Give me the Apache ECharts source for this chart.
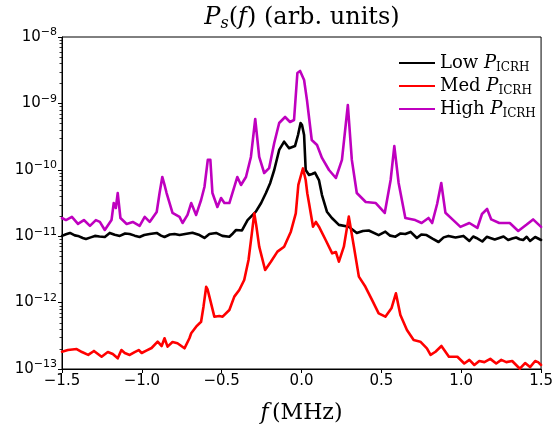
<!DOCTYPE html>
<html>
<head>
<meta charset="utf-8">
<script src="https://cdn.jsdelivr.net/npm/echarts@6/dist/echarts.min.js"></script>
<style>
  html, body { margin: 0; padding: 0; background: #fff; }
  #chart { width: 556px; height: 434px; }
</style>
</head>
<body>
<div id="chart"></div>
<script>
// Spectral power P_s(f) for three ICRH power levels (arbitrary units)
const lowFreq = [-1.5, -1.475, -1.45, -1.42, -1.4, -1.37, -1.35, -1.32, -1.294, -1.265, -1.232, -1.201, -1.17, -1.138, -1.105, -1.076, -1.045, -1.014, -0.985, -0.951, -0.907, -0.88, -0.858, -0.825, -0.795, -0.764, -0.72, -0.683, -0.639, -0.608, -0.577, -0.535, -0.496, -0.452, -0.43, -0.41, -0.373, -0.338, -0.286, -0.253, -0.223, -0.196, -0.171, -0.14, -0.109, -0.078, -0.041, -0.022, -0.006, 0.003, 0.016, 0.026, 0.047, 0.066, 0.084, 0.109, 0.128, 0.159, 0.19, 0.234, 0.296, 0.346, 0.384, 0.421, 0.483, 0.525, 0.555, 0.588, 0.62, 0.65, 0.683, 0.722, 0.75, 0.783, 0.82, 0.858, 0.89, 0.92, 0.964, 1.014, 1.051, 1.075, 1.095, 1.132, 1.16, 1.182, 1.21, 1.238, 1.265, 1.294, 1.32, 1.344, 1.366, 1.388, 1.41, 1.431, 1.463, 1.5];
const lowPower = [1.01e-11, 1.07e-11, 1.12e-11, 1.03e-11, 1.01e-11, 9.4e-12, 9.08e-12, 9.6e-12, 1.01e-11, 9.9e-12, 9.73e-12, 1.12e-11, 1.05e-11, 1.01e-11, 1.1e-11, 1.08e-11, 1.02e-11, 9.73e-12, 1.04e-11, 1.08e-11, 1.12e-11, 1.02e-11, 9.73e-12, 1.06e-11, 1.08e-11, 1.04e-11, 1.09e-11, 1.13e-11, 1.04e-11, 9.4e-12, 1.08e-11, 1.12e-11, 1.01e-11, 9.83e-12, 1.1e-11, 1.24e-11, 1.22e-11, 1.75e-11, 2.34e-11, 3.16e-11, 4.47e-11, 6.33e-11, 9.93e-11, 1.99e-10, 2.65e-10, 2.11e-10, 2.28e-10, 3.34e-10, 5.07e-10, 4.73e-10, 3.34e-10, 9.93e-11, 8.35e-11, 8.64e-11, 9.04e-11, 7.02e-11, 4.17e-11, 2.34e-11, 1.88e-11, 1.48e-11, 1.39e-11, 1.12e-11, 1.2e-11, 1.22e-11, 1.04e-11, 1.17e-11, 1.02e-11, 9.83e-12, 1.1e-11, 1.08e-11, 1.16e-11, 9.4e-12, 1.06e-11, 1.04e-11, 9.2e-12, 8.18e-12, 9.6e-12, 1.01e-11, 9.55e-12, 1.01e-11, 8.47e-12, 9.9e-12, 9.4e-12, 8.32e-12, 9.8e-12, 9.4e-12, 8.9e-12, 9.4e-12, 9.9e-12, 8.77e-12, 9.2e-12, 9.55e-12, 9.0e-12, 8.77e-12, 9.8e-12, 8.47e-12, 9.73e-12, 8.77e-12];

const medFreq = [-1.5, -1.463, -1.408, -1.375, -1.336, -1.3, -1.252, -1.213, -1.182, -1.151, -1.128, -1.107, -1.076, -1.045, -1.02, -1.001, -0.972, -0.939, -0.901, -0.876, -0.858, -0.839, -0.808, -0.777, -0.733, -0.702, -0.691, -0.66, -0.629, -0.614, -0.597, -0.589, -0.577, -0.546, -0.515, -0.494, -0.452, -0.421, -0.39, -0.359, -0.332, -0.311, -0.296, -0.284, -0.265, -0.228, -0.192, -0.151, -0.109, -0.067, -0.036, -0.02, -0.003, 0.009, 0.026, 0.036, 0.047, 0.072, 0.09, 0.109, 0.151, 0.192, 0.215, 0.234, 0.265, 0.296, 0.328, 0.359, 0.4, 0.442, 0.483, 0.525, 0.563, 0.591, 0.619, 0.66, 0.702, 0.744, 0.785, 0.808, 0.839, 0.876, 0.923, 0.976, 1.019, 1.051, 1.082, 1.113, 1.145, 1.182, 1.219, 1.251, 1.282, 1.319, 1.367, 1.4, 1.431, 1.463, 1.481, 1.5];
const medPower = [1.82e-13, 1.93e-13, 2.0e-13, 1.8e-13, 1.63e-13, 1.87e-13, 1.53e-13, 1.8e-13, 1.68e-13, 1.45e-13, 1.93e-13, 1.74e-13, 1.63e-13, 1.8e-13, 1.93e-13, 1.74e-13, 1.89e-13, 2.07e-13, 2.58e-13, 2.22e-13, 2.9e-13, 2.17e-13, 2.55e-13, 2.44e-13, 2.05e-13, 2.9e-13, 3.45e-13, 4.34e-13, 5.15e-13, 8.68e-13, 1.73e-12, 1.6e-12, 1.23e-12, 6.14e-13, 6.28e-13, 6.14e-13, 7.74e-13, 1.23e-12, 1.55e-12, 2.19e-12, 4.38e-12, 1.11e-11, 2.21e-11, 1.48e-11, 6.95e-12, 3.1e-12, 4.13e-12, 5.85e-12, 6.95e-12, 1.17e-11, 2.21e-11, 5.91e-11, 8.35e-11, 1.05e-10, 7.02e-11, 4.43e-11, 3.13e-11, 1.39e-11, 1.64e-11, 1.39e-11, 8.77e-12, 5.52e-12, 5.78e-12, 4.13e-12, 6.95e-12, 1.97e-11, 6.95e-12, 2.46e-12, 1.73e-12, 1.09e-12, 6.9e-13, 6.14e-13, 8.21e-13, 1.38e-12, 6.5e-13, 3.87e-13, 2.73e-13, 2.58e-13, 2.05e-13, 1.63e-13, 1.82e-13, 2.22e-13, 1.53e-13, 1.53e-13, 1.21e-13, 1.37e-13, 1.15e-13, 1.32e-13, 1.27e-13, 1.42e-13, 1.21e-13, 1.37e-13, 1.27e-13, 1.32e-13, 1.01e-13, 1.23e-13, 1.07e-13, 1.32e-13, 1.27e-13, 1.15e-13];

const highFreq = [-1.5, -1.475, -1.438, -1.4, -1.363, -1.325, -1.288, -1.263, -1.232, -1.19, -1.176, -1.163, -1.151, -1.134, -1.095, -1.057, -1.014, -0.982, -0.951, -0.907, -0.889, -0.872, -0.858, -0.845, -0.808, -0.764, -0.745, -0.714, -0.691, -0.66, -0.629, -0.608, -0.587, -0.571, -0.558, -0.527, -0.504, -0.483, -0.452, -0.421, -0.402, -0.379, -0.348, -0.317, -0.29, -0.265, -0.234, -0.203, -0.171, -0.14, -0.103, -0.072, -0.047, -0.026, -0.009, 0.016, 0.034, 0.064, 0.097, 0.128, 0.172, 0.215, 0.253, 0.29, 0.315, 0.346, 0.402, 0.465, 0.521, 0.558, 0.581, 0.608, 0.65, 0.712, 0.752, 0.795, 0.818, 0.849, 0.875, 0.901, 0.945, 0.995, 1.051, 1.101, 1.13, 1.162, 1.188, 1.238, 1.304, 1.357, 1.41, 1.45, 1.5];
const highPower = [1.88e-11, 1.75e-11, 1.95e-11, 1.53e-11, 1.75e-11, 1.43e-11, 1.75e-11, 1.64e-11, 1.24e-11, 1.75e-11, 3.16e-11, 2.66e-11, 4.47e-11, 1.88e-11, 1.53e-11, 1.64e-11, 1.43e-11, 1.95e-11, 1.64e-11, 2.31e-11, 4.47e-11, 7.8e-11, 5.91e-11, 4.47e-11, 2.24e-11, 1.95e-11, 1.58e-11, 2.09e-11, 3.16e-11, 2.09e-11, 3.51e-11, 5.51e-11, 1.41e-10, 1.41e-10, 4.47e-11, 2.75e-11, 3.76e-11, 3.16e-11, 3.16e-11, 5.51e-11, 7.8e-11, 5.91e-11, 7.8e-11, 1.56e-10, 5.82e-10, 1.56e-10, 8.95e-11, 1.06e-10, 2.53e-10, 5.07e-10, 6.24e-10, 5.25e-10, 5.62e-10, 2.87e-9, 3.08e-9, 2.25e-9, 1.12e-9, 2.81e-10, 2.36e-10, 1.51e-10, 9.93e-11, 7.53e-11, 1.41e-10, 9.46e-10, 1.41e-10, 4.47e-11, 3.27e-11, 3.16e-11, 2.24e-11, 7.02e-11, 2.28e-10, 6.33e-11, 1.88e-11, 1.75e-11, 1.58e-11, 1.88e-11, 1.58e-11, 3.05e-11, 6.33e-11, 2.26e-11, 1.79e-11, 1.38e-11, 1.58e-11, 1.33e-11, 2.16e-11, 2.57e-11, 1.79e-11, 1.58e-11, 1.58e-11, 1.2e-11, 1.5e-11, 1.79e-11, 1.38e-11];

const seriesNames = ['Low', 'Med', 'High'];
const seriesColors = ['#000000', '#ff0000', '#bf00bf'];

const X_MIN = -1.5, X_MAX = 1.5;
const Y_MIN = 1e-13, Y_MAX = 1e-8;

const SERIF = '"DejaVu Serif", "Liberation Serif", serif';
const SANS = '"DejaVu Sans", sans-serif';

function pairs(xs, ys) { return xs.map((x, i) => [x, ys[i]]); }

const chart = echarts.init(document.getElementById('chart'), null, { renderer: 'canvas' });

function lineSeries(name, xs, ys, color) {
  return {
    name: name,
    type: 'line',
    data: pairs(xs, ys),
    symbol: 'none',
    smooth: false,
    lineStyle: { color: color, width: 2.6, join: 'round', cap: 'round' },
    itemStyle: { color: color },
    z: 3
  };
}

chart.setOption({
  animation: false,
  backgroundColor: '#ffffff',
  grid: {
    left: 62, right: 13, top: 37, bottom: 65,
    show: true, borderColor: '#000', borderWidth: 1, backgroundColor: 'transparent'
  },
  xAxis: {
    type: 'value',
    min: X_MIN, max: X_MAX, interval: 0.5,
    axisLine: { show: true, onZero: false, lineStyle: { color: '#000', width: 1 } },
    axisTick: { show: true, inside: false, length: 4, lineStyle: { color: '#000' } },
    splitLine: { show: false },
    axisLabel: {
      color: '#000', fontFamily: SANS, fontSize: 15, margin: 5,
      formatter: v => v.toFixed(1).replace('-', '\u2212')
    },
    name: '{i|f} {n|(MHz)}',
    nameLocation: 'middle',
    nameGap: 33,
    nameTextStyle: {
      rich: {
        i: { fontFamily: SERIF, fontStyle: 'italic', fontSize: 22, color: '#000' },
        n: { fontFamily: SERIF, fontSize: 22, color: '#000' }
      }
    }
  },
  yAxis: {
    type: 'log', logBase: 10,
    min: Y_MIN, max: Y_MAX,
    axisLine: { show: true, onZero: false, lineStyle: { color: '#000', width: 1 } },
    axisTick: { show: true, inside: false, length: 4, lineStyle: { color: '#000' } },
    minorTick: { show: false },
    splitLine: { show: false },
    axisLabel: {
      color: '#000', fontFamily: SANS, fontSize: 15, margin: 5,
      formatter: v => '10{sup|\u2212' + Math.round(-Math.log10(v)) + '}',
      rich: {
        sup: { fontFamily: SANS, fontSize: 11, color: '#000', verticalAlign: 'top', padding: [0, 0, 9, 0] }
      }
    }
  },
  legend: {
    data: seriesNames,
    orient: 'vertical',
    left: 394, top: 49,
    itemWidth: 36, itemHeight: 14, itemGap: 3,
    icon: 'path://M0,6 L36,6 L36,8 L0,8 Z',
    formatter: name => '{n|' + name + ' }{i|P}{s|ICRH}',
    textStyle: {
      padding: [0, 0, 0, 0],
      rich: {
        n: { fontFamily: SERIF, fontSize: 18, color: '#000', lineHeight: 22 },
        i: { fontFamily: SERIF, fontSize: 18, fontStyle: 'italic', color: '#000', lineHeight: 22 },
        s: { fontFamily: SERIF, fontSize: 12, color: '#000', lineHeight: 12, verticalAlign: 'bottom' }
      }
    }
  },
  series: [
    lineSeries(seriesNames[0], lowFreq, lowPower, seriesColors[0]),
    lineSeries(seriesNames[1], medFreq, medPower, seriesColors[1]),
    lineSeries(seriesNames[2], highFreq, highPower, seriesColors[2])
  ]
});

// Title plus minor log ticks (2..9 in each decade), placed through the grid's own scales
const graphics = [{
  type: 'text',
  x: 302, y: 18,
  style: {
    text: '{i|P}{s|s}{n|(}{i|f}{n|) (arb. units)}',
    align: 'center', verticalAlign: 'middle',
    rich: {
      i: { fontFamily: SERIF, fontStyle: 'italic', fontSize: 24, color: '#000', lineHeight: 27 },
      n: { fontFamily: SERIF, fontSize: 24, color: '#000', lineHeight: 27 },
      s: { fontFamily: SERIF, fontStyle: 'italic', fontSize: 16, color: '#000', lineHeight: 16, verticalAlign: 'bottom' }
    }
  }
}];
for (let e = -13; e < -8; e++) {
  for (let m = 2; m <= 9; m++) {
    const p = chart.convertToPixel({ gridIndex: 0 }, [X_MIN, m * Math.pow(10, e)]);
    graphics.push({
      type: 'line',
      silent: true,
      shape: { x1: p[0] - 2.5, y1: Math.round(p[1]) + 0.5, x2: p[0], y2: Math.round(p[1]) + 0.5 },
      style: { stroke: '#000', lineWidth: 0.8 }
    });
  }
}
chart.setOption({ graphic: graphics });
</script>
</body>
</html>
